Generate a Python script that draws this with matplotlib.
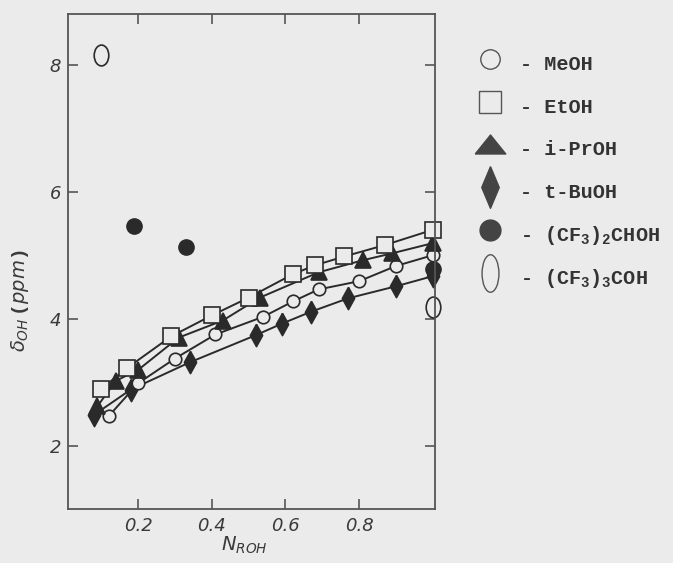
import numpy as np
import matplotlib
matplotlib.use('Agg')
import matplotlib.pyplot as plt
from matplotlib.lines import Line2D
from matplotlib.path import Path

plt.rcParams['mathtext.fontset'] = 'custom'
plt.rcParams['mathtext.rm'] = 'Liberation Mono:bold'
plt.rcParams['mathtext.it'] = 'DejaVu Sans:italic'

# Data (N_ROH, delta_OH in ppm)
meoh_x = [0.12, 0.20, 0.30, 0.41, 0.54, 0.62, 0.69, 0.80, 0.90, 1.00]
meoh_y = [2.46, 2.98, 3.37, 3.75, 4.03, 4.27, 4.46, 4.59, 4.83, 5.00]

etoh_x = [0.10, 0.17, 0.29, 0.40, 0.50, 0.62, 0.68, 0.76, 0.87, 1.00]
etoh_y = [2.89, 3.22, 3.72, 4.05, 4.33, 4.70, 4.84, 4.98, 5.16, 5.40]

iproh_x = [0.09, 0.14, 0.20, 0.31, 0.43, 0.53, 0.69, 0.81, 0.89, 1.00]
iproh_y = [2.62, 3.02, 3.19, 3.70, 3.97, 4.33, 4.73, 4.92, 5.03, 5.19]

tbuoh_x = [0.08, 0.18, 0.34, 0.52, 0.59, 0.67, 0.77, 0.90, 1.00]
tbuoh_y = [2.48, 2.88, 3.31, 3.74, 3.92, 4.11, 4.32, 4.51, 4.67]

hfip_x = [0.19, 0.33, 1.00]
hfip_y = [5.46, 5.13, 4.78]

pfb_x = [0.10, 1.00]
pfb_y = [8.16, 4.18]

x_ticks = [0.2, 0.4, 0.6, 0.8]
y_ticks = [2, 4, 6, 8]

bg = '#ebebeb'
ink = '#2a2a2a'

# custom marker shapes
def oval(ratio):
    c = Path.unit_circle()
    return Path(c.vertices * [ratio, 1.0], c.codes)

tall_diamond = [(0, 1), (0.55, 0), (0, -1), (-0.55, 0), (0, 1)]
legend_diamond = [(0, 1), (0.42, 0), (0, -1), (-0.42, 0), (0, 1)]
flat_triangle = [(-1, -0.62), (1, -0.62), (0, 0.62), (-1, -0.62)]

fig = plt.figure(figsize=(6.73, 5.63), dpi=100, facecolor=bg)
ax = fig.add_axes([0.101, 0.096, 0.545, 0.879], facecolor=bg)

line_kw = dict(color=ink, lw=1.4, clip_on=False, markeredgecolor=ink, markeredgewidth=1.2)
ax.plot(tbuoh_x, tbuoh_y, marker=tall_diamond, ms=16, mfc=ink, **line_kw)
ax.plot(meoh_x, meoh_y, marker='o', ms=9, mfc=bg, **line_kw)
ax.plot(iproh_x, iproh_y, marker='^', ms=11, mfc=ink, **line_kw)
ax.plot(etoh_x, etoh_y, marker='s', ms=11, mfc=bg, **line_kw)
ax.plot(hfip_x, hfip_y, ls='none', marker='o', ms=11, mfc=ink, clip_on=False,
        markeredgecolor=ink)
ax.plot(pfb_x, pfb_y, ls='none', marker=oval(0.7), ms=15, mfc=bg, clip_on=False,
        markeredgecolor=ink, markeredgewidth=1.2)

ax.set_xlim(0.01, 1.005)
ax.set_ylim(1.0, 8.8)
ax.set_xticks(x_ticks)
ax.set_xticklabels([f'{t:.1f}' for t in x_ticks])
ax.set_yticks(y_ticks)
ax.set_yticklabels([str(t) for t in y_ticks])
ax.tick_params(direction='in', length=7, width=1.2, color='#555555',
               top=True, right=True, labelsize=13, labelcolor='#3a3a3a')
ax.tick_params(axis='x', pad=6)
ax.tick_params(axis='y', pad=5)
for lab in ax.get_xticklabels() + ax.get_yticklabels():
    lab.set_fontstyle('italic')
for s in ax.spines.values():
    s.set_color('#555555')
    s.set_linewidth(1.3)

ax.set_xlabel(r'$N_{ROH}$', fontsize=14, color='#3a3a3a')
ax.set_ylabel(r'$\delta_{OH}\,(ppm)$', fontsize=14, color='#3a3a3a')
ax.xaxis.set_label_coords(0.48, -0.052)
ax.yaxis.set_label_coords(-0.10, 0.42)

handles = [
    Line2D([], [], ls='none', marker='o', ms=14, mfc=bg, mec='#555555', mew=1.0),
    Line2D([], [], ls='none', marker='s', ms=16, mfc=bg, mec='#555555', mew=1.0),
    Line2D([], [], ls='none', marker=flat_triangle, ms=22, mfc='#444444', mec='#444444'),
    Line2D([], [], ls='none', marker=legend_diamond, ms=30, mfc='#444444', mec='#444444'),
    Line2D([], [], ls='none', marker='o', ms=15, mfc='#444444', mec='#444444'),
    Line2D([], [], ls='none', marker=oval(0.45), ms=27, mfc=bg, mec='#555555', mew=1.0),
]
labels = ['- MeOH', '- EtOH', '- i-PrOH', '- t-BuOH',
          r'- (CF$_3$)$_2$CHOH', r'- (CF$_3$)$_3$COH']
leg = fig.legend(handles, labels, loc='upper left', bbox_to_anchor=(0.698, 0.915),
                 frameon=False, borderpad=0, borderaxespad=0, handlelength=2.0,
                 handleheight=2.0, handletextpad=0.5, labelspacing=0.58,
                 prop={'family': 'Liberation Mono', 'weight': 'bold', 'size': 14.5})
for t in leg.get_texts():
    t.set_color('#333333')

fig.savefig('out.png', dpi=100, facecolor=bg)
